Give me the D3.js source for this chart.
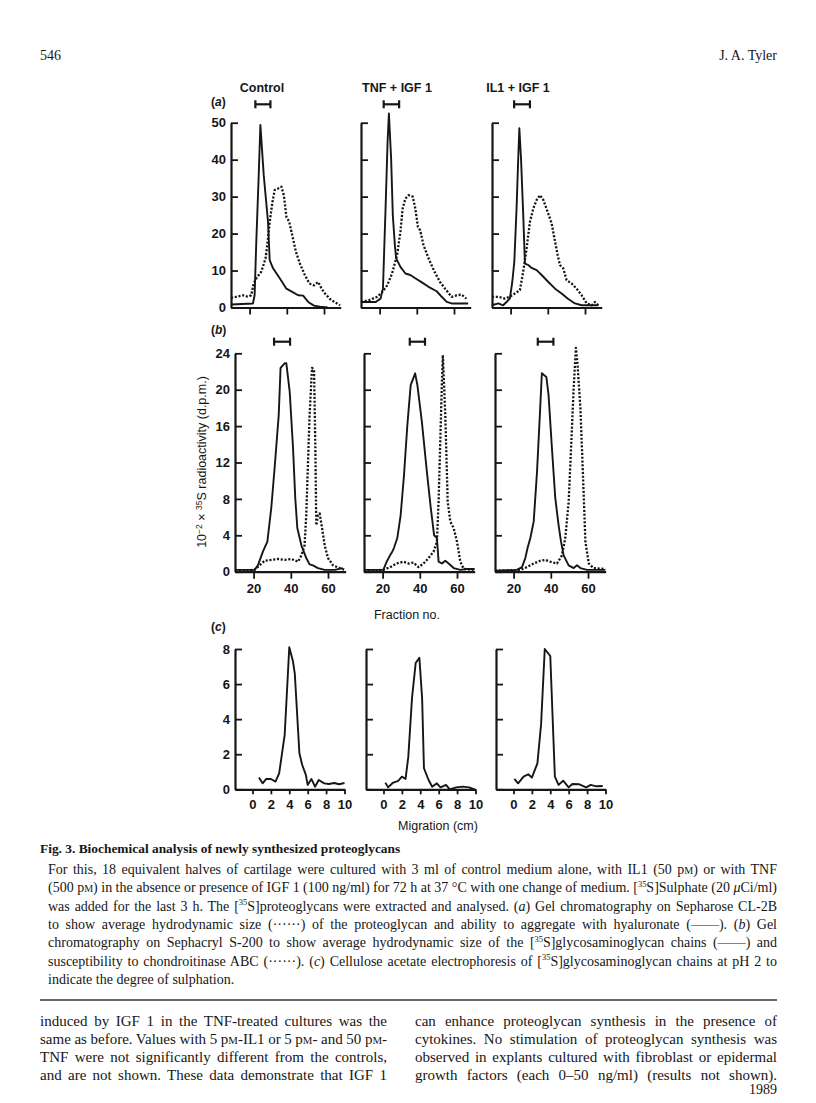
<!DOCTYPE html>
<html>
<head>
<meta charset="utf-8">
<script src="https://cdn.jsdelivr.net/npm/d3@7"></script>
<style>
body { margin: 0; background: #fff; }
</style>
</head>
<body>
<svg id="page" width="816" height="1103"></svg>
<script>
// ---- data ----
const conditions = ["Control", "TNF + IGF 1", "IL1 + IGF 1"];

const aTicks = [0, 10, 20, 30, 40, 50];
const bTicks = [0, 4, 8, 12, 16, 20, 24];
const cTicks = [0, 2, 4, 6, 8];
const fractionTicks = [20, 40, 60];
const migrationTicks = [0, 2, 4, 6, 8, 10];

// (a) Sepharose CL-2B, [fraction, 10^-2 d.p.m.]
const aCtrlSolid = [[10,0.8],[21.8,1.1],[22.7,3.3],[23.6,17.8],[24.9,35.8],[25.8,49.4],[27.6,35.8],[29.9,23.2],[30.8,12.8],[32.6,10.6],[36.2,7.9],[39.8,5.1],[43.4,4.1],[46.1,3.3],[48.8,3.2],[51.5,1.5],[54.6,0.5],[57.8,0.2],[62,0]];
const aCtrlDots = [[10,2.6],[12.8,2.9],[16.4,3.3],[19.1,2.9],[20.9,3.3],[22.2,6.5],[23.6,7.9],[26.3,9.7],[28.6,13.3],[29.9,18.7],[30.8,23.2],[32.3,28.6],[33.5,31.8],[35.3,32.2],[37.1,32.7],[38.4,30.4],[39.8,24.5],[41.3,23.2],[42.5,20.5],[44.9,15.1],[47,11.9],[49.7,8.8],[52.1,6.5],[54.6,6],[56.9,6.9],[58.7,5.1],[60.5,3.8],[63.2,2.3],[65.9,1.4],[68.6,0.6]];
const aTnfSolid = [[10,1.5],[17.9,1.5],[20.5,2.4],[21.8,5.1],[23.2,26.8],[24.3,44.9],[25,52.5],[26.2,40.3],[27.1,25],[28.2,16.9],[28.9,13.3],[31.2,11],[33.9,9.2],[36.5,8.8],[39.2,7.9],[42.7,6.8],[46.3,5.6],[50.7,4.4],[53.4,2.9],[56.1,1.5],[58.7,1.1],[67.6,1.1]];
const aTnfDots = [[10,1.5],[14.4,2],[18.8,2.9],[21.4,4.2],[24.1,6],[26.7,9.2],[29.4,14.2],[31.2,20.5],[32.4,26.8],[33.9,29.5],[35.6,30.4],[37.8,30],[39.2,26.8],[40.6,21.8],[41.8,20.9],[43.6,16.9],[46.3,13.3],[49.5,9.7],[52.5,6.9],[55.2,5.1],[58.7,2.9],[61.4,3.3],[64,3.5],[66.7,2.4]];
const aIl1Solid = [[10,0.6],[13.4,1.1],[16,0.6],[17.8,1.5],[19.6,2.4],[20.9,6.9],[22,12.4],[23.2,26.8],[24.1,40.3],[24.7,48.5],[25.6,40.3],[26.8,25],[27.7,11.9],[29.5,11.5],[31.3,10.7],[34,10.1],[36.7,8.8],[40.3,6.9],[43.9,5.1],[47.4,3.8],[51,2.3],[54.6,1.1],[58.2,0.6],[67.2,0.6]];
const aIl1Dots = [[10,2.9],[13.6,2.9],[17,2.4],[19.6,2.9],[22.3,3.8],[25,4.7],[26.8,9.7],[28.6,16],[30.4,23.2],[32.2,26.8],[34,29.1],[35.8,30.4],[37.6,29.1],[39.9,25.9],[42.1,22.7],[43.9,17.8],[45.3,14.2],[46.5,11.5],[48.3,10.6],[50.1,7.4],[52.8,6.5],[55.5,5.1],[58.2,3.3],[60.9,1.1],[63.6,0.6],[65.4,1.5],[67.2,0.6]];

// (b) Sephacryl S-200
const bCtrlSolid = [[10,0.2],[20.5,0.2],[22.3,0.7],[25,2.2],[27.4,3.3],[29.5,7],[31.3,11.4],[33.5,17.2],[34.5,22.4],[36.7,22.9],[37.6,22.9],[39.4,19.8],[41.2,13.6],[42.4,8.1],[43.5,4.8],[45.7,2.9],[48.3,1.5],[50.1,0.8],[51.9,0.7],[54.6,0.4],[58.2,0.2],[63.6,0.2],[68,0.4]];
const bCtrlDots = [[10,0.1],[20.5,0.2],[23.2,0.7],[25.9,1.2],[29.5,1.3],[33.1,1.4],[36.7,1.3],[40.3,1.4],[43.9,1.1],[45.7,1.8],[47.4,2.9],[48.3,6.2],[49.2,11.7],[50.1,17.2],[51.4,22.4],[52.5,22.2],[53.2,13.6],[53.7,5.1],[54.6,6.2],[55.5,6.4],[56.8,4.8],[58.2,2.9],[60,1.5],[62.7,0.7],[66.3,0.4],[69,0.2]];
const bTnfSolid = [[10,0.2],[20.4,0.2],[22.2,1.1],[24,1.8],[25.2,2.2],[26.1,2.6],[27.9,3.7],[29.7,6.2],[31.5,10.6],[33.3,16.1],[35.1,20.5],[37.5,21.8],[38.7,20.5],[41.1,16.5],[43.8,11],[45.9,7],[47.7,4],[49.2,3.7],[50.1,1.1],[51.9,0.9],[53.7,1.2],[55.5,0.9],[58.2,0.4],[61.8,0.2],[65.4,0.3],[69.5,0.3]];
const bTnfDots = [[10,0.1],[20.4,0.2],[24,0.5],[27.6,0.9],[31.2,1.1],[33.9,0.9],[36.6,1],[39.3,0.5],[42,0.9],[44.7,1.5],[47.4,2.2],[49.2,3.3],[50.1,7.7],[51,14.3],[51.9,20.9],[52.4,23.8],[53.7,17.2],[55,7.7],[56.4,5.5],[58.2,4.8],[60,3.3],[61.8,1.1],[63.6,0.3],[69.5,0.2]];
const bIl1Solid = [[10,0.1],[21.8,0.2],[24.5,0.5],[26.3,1.5],[27.5,2.6],[29,3.7],[30.8,5.5],[32.6,11],[34.3,18],[35.2,21.8],[37.6,21.4],[38.8,19.4],[40.6,13.6],[42.4,8.1],[44.2,5.1],[45.5,3.3],[46.9,1.8],[49.6,0.7],[52.3,0.4],[54.1,0.7],[55.9,0.4],[59.5,0.2],[69.3,0.2]];
const bIl1Dots = [[10,0.1],[23.6,0.2],[27.2,0.5],[30.8,0.9],[34.3,1.2],[37,1.3],[39.7,1.1],[43.3,0.9],[46,1.8],[47.8,3.7],[49.6,7.7],[50.9,13.6],[52.3,20.2],[53.5,24.6],[54.4,22.7],[55.9,18],[57.3,10.6],[58.6,3.3],[60.4,0.9],[63,0.4],[69.3,0.3]];

// (c) cellulose acetate electrophoresis, [cm, 10^-2 d.p.m.]
const cCtrl = [[0.7,0.67],[1.1,0.34],[1.5,0.59],[2,0.59],[2.5,0.44],[2.9,0.91],[3.5,3.1],[4.0,8.1],[4.4,7.3],[4.6,6.6],[5.1,2.05],[5.4,1.4],[5.8,0.82],[6,0.25],[6.4,0.59],[6.8,0.15],[7.2,0.53],[7.8,0.34],[8.3,0.3],[8.9,0.36],[9.4,0.29],[10,0.36]];
const cTnf = [[0.2,0.38],[0.5,0.11],[1,0.36],[1.6,0.48],[2,0.72],[2.4,0.59],[2.7,1.86],[3.1,5.2],[3.5,7.2],[3.9,7.5],[4.2,5.2],[4.4,1.2],[4.9,0.53],[5.3,0.15],[5.8,0.34],[6.2,0.11],[6.8,0.25],[7.2,0],[7.9,0.11],[8.6,0.15],[9.3,0.11],[9.9,0]];
const cIl1 = [[0.1,0.59],[0.5,0.34],[1.1,0.72],[1.6,0.86],[2,0.67],[2.6,1.48],[3,3.7],[3.4,8.0],[4.0,7.6],[4.5,0.72],[4.9,0.25],[5.4,0.49],[6,0.11],[6.4,0.3],[7.1,0.29],[7.9,0.11],[8.4,0.25],[9,0.17],[9.7,0.19]];

// bars over the columns: [from, to] in fraction no.
const aBars = [[23.1, 31.2], [22.2, 30.5], [21.9, 30.4]];
const bBars = [[31, 39.6], [34.6, 42.8], [33, 41.4]];

// ---- layout ----
const svg = d3.select("#page");
const ink = "#161616";
const sans = "'Liberation Sans', Arial, sans-serif";
const serif = "'Liberation Serif', 'Times New Roman', serif";

const rows = [
	{ key: "a", lefts: [231, 361, 492], y0: 307.5, yTop: 122.7, yDomain: [0, 50], yTicks: aTicks,
	  xDomain: [10, 69], xPx: 1.86, xTicks: fractionTicks, xLabels: false, tick: 7,
	  series: [[aCtrlSolid, aCtrlDots], [aTnfSolid, aTnfDots], [aIl1Solid, aIl1Dots]], bars: aBars, barY: 104.3 },
	{ key: "b", lefts: [235, 364, 495], y0: 571.7, yTop: 353.3, yDomain: [0, 24], yTicks: bTicks,
	  xDomain: [10, 69.5], xPx: 1.86, xTicks: fractionTicks, xLabels: true, tick: 7,
	  series: [[bCtrlSolid, bCtrlDots], [bTnfSolid, bTnfDots], [bIl1Solid, bIl1Dots]], bars: bBars, barY: 341.7 },
	{ key: "c", lefts: [235, 366, 496], y0: 789.3, yTop: 649, yDomain: [0, 8], yTicks: cTicks,
	  xDomain: [-1.9, 10], xPx: 9.2, xTicks: migrationTicks, xLabels: true, tick: 5,
	  series: [[cCtrl], [cTnf], [cIl1]], bars: null }
];

rows.forEach(row => {
	row.lefts.forEach((left, i) => {
		const xs = d3.scaleLinear().domain(row.xDomain).range([left, left + (row.xDomain[1] - row.xDomain[0]) * row.xPx]);
		const ys = d3.scaleLinear().domain(row.yDomain).range([row.y0, row.yTop]);

		const yAxis = svg.append("g")
			.attr("transform", "translate(" + left + ",0)")
			.call(d3.axisLeft(ys).tickValues(row.yTicks).tickSizeInner(-7).tickSizeOuter(0).tickPadding(5)
				.tickFormat(i === 0 ? d3.format("d") : ""));
		yAxis.select(".domain").attr("stroke", ink).attr("stroke-width", 2.2);
		yAxis.selectAll(".tick line").attr("stroke", ink).attr("stroke-width", 1.8);
		yAxis.selectAll("text").attr("fill", ink).style("font", "bold 13px " + sans);

		const xAxis = svg.append("g")
			.attr("transform", "translate(0," + row.y0 + ")")
			.call(d3.axisBottom(xs).tickValues(row.xTicks).tickSizeInner(row.tick).tickSizeOuter(0).tickPadding(5)
				.tickFormat(row.xLabels ? d3.format("d") : ""));
		xAxis.select(".domain").attr("stroke", ink).attr("stroke-width", 2.2);
		xAxis.selectAll(".tick line").attr("stroke", ink).attr("stroke-width", 1.8);
		xAxis.selectAll("text").attr("fill", ink).style("font", "bold 13px " + sans);

		const line = d3.line().x(d => xs(d[0])).y(d => ys(d[1]));
		row.series[i].forEach((pts, j) => {
			svg.append("path")
				.datum(pts)
				.attr("d", line)
				.attr("fill", "none")
				.attr("stroke", ink)
				.attr("stroke-width", j === 0 ? 1.9 : 2.3)
				.attr("stroke-linejoin", "round")
				.attr("stroke-dasharray", j === 0 ? null : "2.1,1.7");
		});

		if (row.bars) {
			const [b0, b1] = row.bars[i];
			const bar = svg.append("g").attr("stroke", ink).attr("stroke-width", 2.2);
			bar.append("line").attr("x1", xs(b0)).attr("x2", xs(b1)).attr("y1", row.barY).attr("y2", row.barY);
			[b0, b1].forEach(b => bar.append("line")
				.attr("x1", xs(b)).attr("x2", xs(b))
				.attr("y1", row.barY - 4).attr("y2", row.barY + 4));
		}
	});
});

// column titles and panel letters
const titleX = [262, 397, 518];
conditions.forEach((c, i) => {
	svg.append("text").attr("x", titleX[i]).attr("y", 92)
		.attr("text-anchor", "middle").attr("fill", ink)
		.style("font", "bold 12.5px " + sans).text(c);
});
[["(a)", 211, 106], ["(b)", 211, 334], ["(c)", 211, 631]].forEach(l => {
	const t = svg.append("text").attr("x", l[1]).attr("y", l[2]).attr("fill", ink).style("font", "bold 12px " + sans);
	t.append("tspan").text("(");
	t.append("tspan").style("font-style", "italic").text(l[0][1]);
	t.append("tspan").text(")");
});

svg.append("text").attr("x", 407).attr("y", 619).attr("text-anchor", "middle").attr("fill", ink)
	.style("font", "12.5px " + sans).text("Fraction no.");
svg.append("text").attr("x", 438).attr("y", 830).attr("text-anchor", "middle").attr("fill", ink)
	.style("font", "12.5px " + sans).text("Migration (cm)");

const yl = svg.append("text").attr("transform", "translate(206,462) rotate(-90)")
	.attr("text-anchor", "middle").attr("fill", ink).style("font", "12.5px " + sans);
yl.append("tspan").text("10");
yl.append("tspan").attr("dy", -4.5).style("font-size", "8.5px").text("−2");
yl.append("tspan").attr("dy", 4.5).text(" × ");
yl.append("tspan").attr("dy", -4.5).style("font-size", "8.5px").text("35");
yl.append("tspan").attr("dy", 4.5).text("S radioactivity (d.p.m.)");

// ---- page text ----
// markup: ^sup^  *italic*  ~smallcaps~
function richLine(x, y, str, size, width, anchor) {
	const t = svg.append("text").attr("x", x).attr("y", y).attr("fill", ink)
		.attr("text-anchor", anchor || "start")
		.style("font-family", serif).style("font-size", size + "px");
	let shift = 0;
	str.split(/(\^[^^]*\^|\*[^*]*\*|~[^~]*~)/).filter(s => s).forEach(s => {
		const sp = t.append("tspan");
		let txt = s, dy = 0;
		if (s[0] === "^") {
			txt = s.slice(1, -1); sp.style("font-size", (size * 0.6) + "px");
			dy = -size * 0.38 - shift; shift = -size * 0.38;
		} else {
			dy = -shift; shift = 0;
			if (s[0] === "*") { txt = s.slice(1, -1); sp.style("font-style", "italic"); }
			if (s[0] === "~") { txt = s.slice(1, -1); sp.style("font-size", (size * 0.72) + "px"); }
		}
		if (dy) sp.attr("dy", dy);
		sp.text(txt);
	});
	if (width) {
		const natural = t.node().getComputedTextLength();
		const spaces = (t.text().match(/ /g) || []).length;
		if (spaces) t.style("word-spacing", ((width - natural) / spaces) + "px");
	}
	return t;
}

richLine(40, 60, "546", 14);
richLine(777, 60, "J. A. Tyler", 14, null, "end");

richLine(40, 853, "Fig. 3. Biochemical analysis of newly synthesized proteoglycans", 13.4).style("font-weight", "bold");

const captionLines = [
	"For this, 18 equivalent halves of cartilage were cultured with 3 ml of control medium alone, with IL1 (50 p~M~) or with TNF",
	"(500 p~M~) in the absence or presence of IGF 1 (100 ng/ml) for 72 h at 37 °C with one change of medium. [^35^S]Sulphate (20 *μ*Ci/ml)",
	"was added for the last 3 h. The [^35^S]proteoglycans were extracted and analysed. (*a*) Gel chromatography on Sepharose CL-2B",
	"to show average hydrodynamic size (······) of the proteoglycan and ability to aggregate with hyaluronate (——). (*b*) Gel",
	"chromatography on Sephacryl S-200 to show average hydrodynamic size of the [^35^S]glycosaminoglycan chains (——) and",
	"susceptibility to chondroitinase ABC (······). (*c*) Cellulose acetate electrophoresis of [^35^S]glycosaminoglycan chains at pH 2 to",
	"indicate the degree of sulphation."
];
captionLines.forEach((l, i) => richLine(48, 874 + i * 18.3, l, 14, i < captionLines.length - 1 ? 729 : null));

svg.append("line").attr("x1", 40).attr("x2", 777).attr("y1", 1000).attr("y2", 1000)
	.attr("stroke", "#333").attr("stroke-width", 1.4);

const leftColumn = [
	"induced by IGF 1 in the TNF-treated cultures was the",
	"same as before. Values with 5 p~M~-IL1 or 5 p~M~- and 50 p~M~-",
	"TNF were not significantly different from the controls,",
	"and are not shown. These data demonstrate that IGF 1"
];
const rightColumn = [
	"can enhance proteoglycan synthesis in the presence of",
	"cytokines. No stimulation of proteoglycan synthesis was",
	"observed in explants cultured with fibroblast or epidermal",
	"growth factors (each 0–50 ng/ml) (results not shown)."
];
leftColumn.forEach((l, i) => richLine(40, 1026 + i * 18, l, 15, 347));
rightColumn.forEach((l, i) => richLine(415, 1026 + i * 18, l, 15, 362));
richLine(777, 1094, "1989", 14, null, "end");
</script>
</body>
</html>
